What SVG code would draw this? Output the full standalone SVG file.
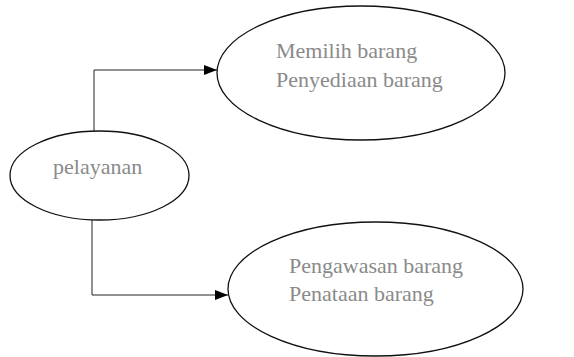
<svg xmlns="http://www.w3.org/2000/svg" width="574" height="357" viewBox="0 0 574 357">
<defs>
<style>
.node{fill:#fff;stroke:#111;stroke-width:1.3}
.lbl{font-family:"Liberation Serif",serif;font-size:22px;fill:#8a8a8a}
.conn{fill:none;stroke:#222;stroke-width:1}
</style>
<marker id="arr" markerWidth="13" markerHeight="10" refX="13" refY="5" orient="auto" markerUnits="userSpaceOnUse">
<path d="M0,0 L13,5 L0,10 Z" fill="#000"/>
</marker>
</defs>
<rect width="574" height="357" fill="#fff"/>
<g id="connectors">
<path class="conn" d="M94,131 V70 H217" marker-end="url(#arr)"/>
<path class="conn" d="M92,220 V295 H228" marker-end="url(#arr)"/>
</g>
<g id="node-pelayanan">
<ellipse class="node" cx="99.5" cy="175.5" rx="89.5" ry="44.5"/>
<text class="lbl" x="53" y="174">pelayanan</text>
</g>
<g id="node-memilih">
<ellipse class="node" cx="361" cy="73" rx="144" ry="67"/>
<text class="lbl" x="276" y="58">Memilih barang</text>
<text class="lbl" x="276" y="87">Penyediaan barang</text>
</g>
<g id="node-pengawasan">
<ellipse class="node" cx="375.5" cy="289" rx="147.5" ry="67"/>
<text class="lbl" x="289" y="273">Pengawasan barang</text>
<text class="lbl" x="289" y="301">Penataan barang</text>
</g>
</svg>
